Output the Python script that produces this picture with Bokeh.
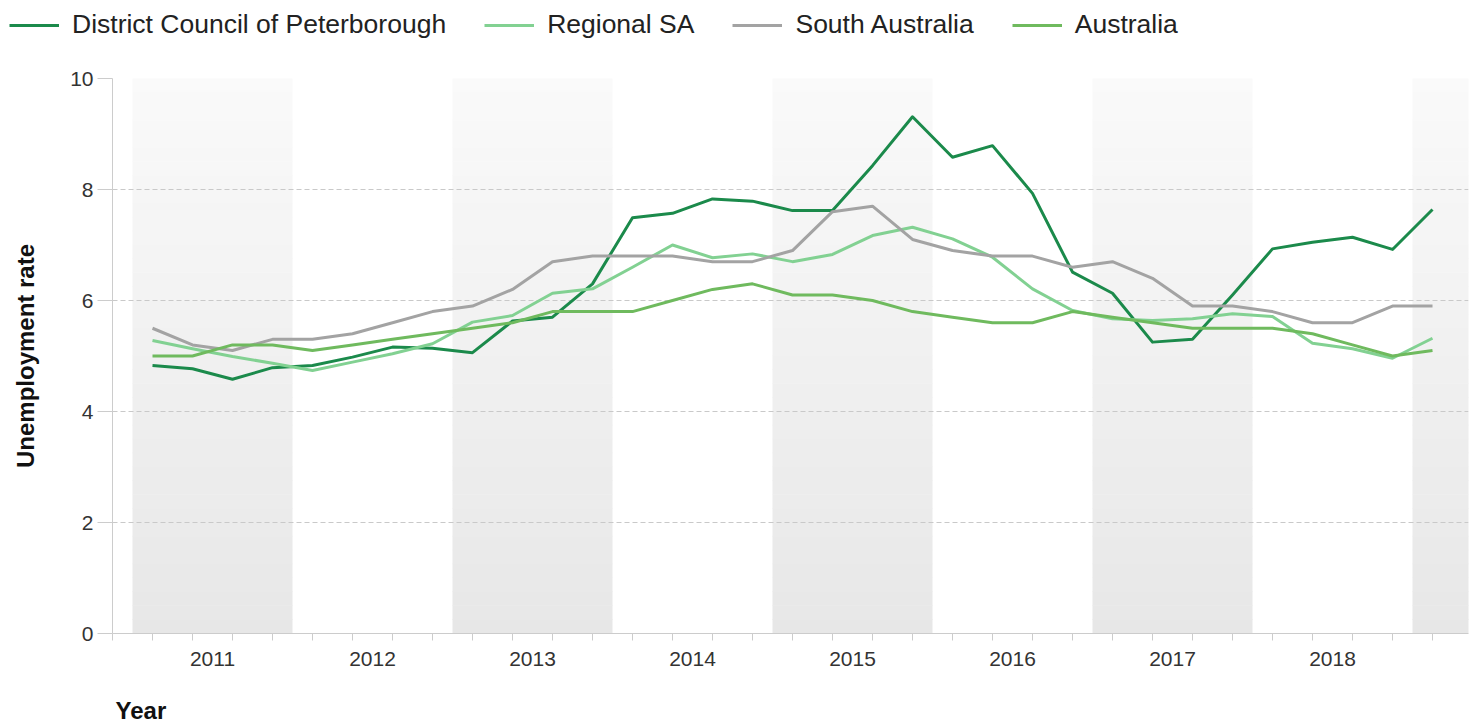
from bokeh.plotting import figure
from bokeh.models import (FixedTicker, CustomJSTickFormatter, Legend, LegendItem,
                          Range1d, ColumnDataSource, Label)
from bokeh.embed import file_html
from bokeh.resources import INLINE

# ---------------- data ----------------
years = [2011, 2012, 2013, 2014, 2015, 2016, 2017, 2018, 2019]
quarters = [1, 2, 3, 4]
n_periods = 33  # 2011 Q1 .. 2019 Q1
shaded_years = [2011, 2013, 2015, 2017, 2019]
y_ticks = [0, 2, 4, 6, 8, 10]

peterborough = [4.83, 4.77, 4.58, 4.79, 4.83, 4.98, 5.16, 5.14, 5.06, 5.63, 5.70,
                6.30, 7.49, 7.57, 7.83, 7.79, 7.62, 7.62, 8.43, 9.31, 8.58, 8.79,
                7.93, 6.51, 6.13, 5.25, 5.30, 6.10, 6.93, 7.05, 7.14, 6.92, 7.64]
regional_sa = [5.28, 5.13, 4.99, 4.87, 4.74, 4.89, 5.04, 5.22, 5.61, 5.73, 6.13,
               6.21, 6.60, 7.00, 6.77, 6.84, 6.70, 6.83, 7.17, 7.32, 7.11, 6.78,
               6.21, 5.82, 5.67, 5.64, 5.67, 5.76, 5.71, 5.23, 5.13, 4.96, 5.32]
south_australia = [5.5, 5.2, 5.1, 5.3, 5.3, 5.4, 5.6, 5.8, 5.9, 6.2, 6.7,
                   6.8, 6.8, 6.8, 6.7, 6.7, 6.9, 7.6, 7.7, 7.1, 6.9, 6.8,
                   6.8, 6.6, 6.7, 6.4, 5.9, 5.9, 5.8, 5.6, 5.6, 5.9, 5.9]
australia = [5.0, 5.0, 5.2, 5.2, 5.1, 5.2, 5.3, 5.4, 5.5, 5.6, 5.8,
             5.8, 5.8, 6.0, 6.2, 6.3, 6.1, 6.1, 6.0, 5.8, 5.7, 5.6,
             5.6, 5.8, 5.7, 5.6, 5.5, 5.5, 5.5, 5.4, 5.2, 5.0, 5.1]

series_names = ["District Council of Peterborough", "Regional SA", "South Australia", "Australia"]
series_colors = ["#1b8a4b", "#82d192", "#a3a3a3", "#6fba5e"]
all_series = [peterborough, regional_sa, south_australia, australia]
x_title = "Year"
y_title = "Unemployment rate"

# x position of each quarter: centre of the quarter within its year
x_vals = [y + (q - 0.5) / 4 for y in years for q in quarters][:n_periods]

FONT = "Liberation Sans"
W = 1477

# ---------------- main chart ----------------
p = figure(width=W, height=630, output_backend="svg", toolbar_location=None,
           x_range=Range1d(years[0] - 0.125, years[0] + 8.35), y_range=Range1d(0, 10),
           min_border_left=112, min_border_right=9, min_border_top=28, min_border_bottom=47,
           background_fill_color="white", border_fill_color="white")
p.outline_line_color = None

# alternating year bands with a vertical grey gradient
n_slices = 40
top_c = (250, 250, 250)
bot_c = (231, 231, 231)
bl, br, bb, bt, bc = [], [], [], [], []
for yr in shaded_years:
    for k in range(n_slices):
        f = (k + 0.5) / n_slices
        c = tuple(int(round(bot_c[j] + (top_c[j] - bot_c[j]) * f)) for j in range(3))
        bl.append(yr)
        br.append(yr + 1)
        bb.append(10 * k / n_slices)
        bt.append(10 * (k + 1) / n_slices + 0.01)
        bc.append("#%02x%02x%02x" % c)
band_src = ColumnDataSource(dict(left=bl, right=br, bottom=bb, top=bt, color=bc))
p.quad(left="left", right="right", bottom="bottom", top="top", fill_color="color",
       line_color=None, source=band_src, level="image")

# grid
p.xgrid.visible = False
p.ygrid.ticker = FixedTicker(ticks=y_ticks)
p.ygrid.grid_line_color = "#c9c9c9"
p.ygrid.grid_line_dash = "5 3"
p.ygrid.grid_line_width = 1

# lines
for vals, col in zip(all_series, series_colors):
    p.line(x_vals, vals, line_color=col, line_width=3, line_join="round")

# y axis
yax = p.yaxis[0]
yax.ticker = FixedTicker(ticks=y_ticks)
yax.axis_line_color = "#cccccc"
yax.major_tick_line_color = "#cccccc"
yax.major_tick_out = 15
yax.major_tick_in = 0
yax.minor_tick_out = 0
yax.minor_tick_in = 0
yax.major_label_standoff = 4
yax.major_label_text_font = FONT
yax.major_label_text_font_size = "21px"
yax.major_label_text_color = "#333333"
yax.axis_label = y_title
yax.axis_label_text_font = FONT
yax.axis_label_text_font_size = "24px"
yax.axis_label_text_font_style = "bold"
yax.axis_label_text_color = "#111111"
yax.axis_label_standoff = 28

# x axis
xax = p.xaxis[0]
xax.ticker = FixedTicker(ticks=[y + 0.5 for y in years[:8]],
                         minor_ticks=[years[0] - 0.125 + 0.25 * k for k in range(n_periods + 1)])
xax.formatter = CustomJSTickFormatter(code="return String(Math.floor(tick));")
xax.axis_line_color = "#cccccc"
xax.major_tick_out = 0
xax.major_tick_in = 0
xax.minor_tick_out = 7
xax.minor_tick_in = 0
xax.minor_tick_line_color = "#cccccc"
xax.major_label_standoff = 11
xax.major_label_text_font = FONT
xax.major_label_text_font_size = "21px"
xax.major_label_text_color = "#333333"

# ---------------- legend strip (separate root) ----------------
pl = figure(width=W, height=50, output_backend="svg", toolbar_location=None,
            x_axis_location=None, y_axis_location=None,
            min_border=0, min_border_left=0, min_border_right=0,
            min_border_top=0, min_border_bottom=0,
            x_range=Range1d(0, 1), y_range=Range1d(0, 1),
            background_fill_color="white", border_fill_color="white")
pl.outline_line_color = None
pl.grid.visible = False
# the same series, outside this strip's visible ranges: only their legend samples show
leg_renderers = [pl.line(x_vals, vals, line_color=c, line_width=3)
                 for vals, c in zip(all_series, series_colors)]
items = [LegendItem(label=n, renderers=[r]) for n, r in zip(series_names, leg_renderers)]
legend = Legend(items=items, orientation="horizontal", location=(9, 10),
                label_text_font=FONT, label_text_font_size="26.5px", label_text_color="#222222",
                glyph_width=50, glyph_height=20, label_standoff=13, spacing=38,
                padding=0, margin=0, border_line_color=None, background_fill_alpha=0)
pl.add_layout(legend, "center")

# ---------------- x-axis title strip (separate root) ----------------
STRIP_H = 40
pt = figure(width=W, height=STRIP_H, output_backend="svg", toolbar_location=None,
            x_axis_location=None, y_axis_location=None,
            min_border=0, min_border_left=0, min_border_right=0,
            min_border_top=0, min_border_bottom=0,
            x_range=Range1d(0, W), y_range=Range1d(0, STRIP_H),
            background_fill_color="white", border_fill_color="white")
pt.outline_line_color = None
pt.grid.visible = False
pt.add_layout(Label(x=115, y=10, text=x_title, text_font=FONT, text_font_size="24px",
                    text_font_style="bold", text_color="#111111",
                    text_baseline="alphabetic", text_align="left"))

open("out.html", "w").write(file_html([pl, p, pt], INLINE))
